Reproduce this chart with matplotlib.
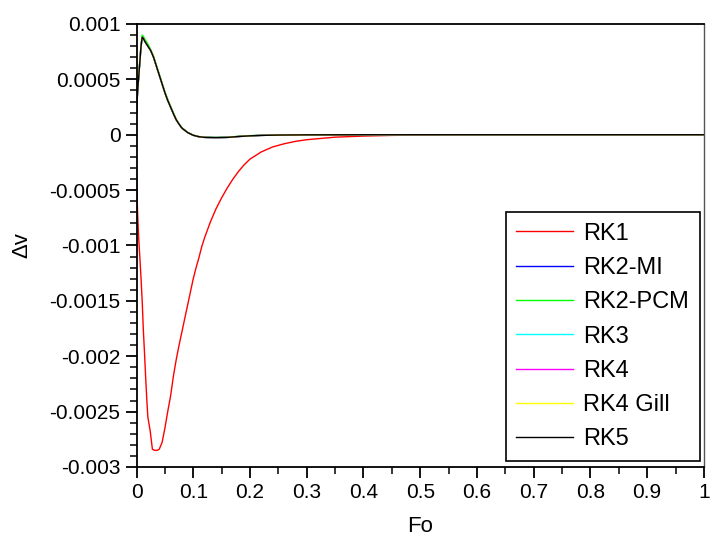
import numpy as np
import matplotlib
matplotlib.use('Agg')
import matplotlib.pyplot as plt
from matplotlib.ticker import MultipleLocator

plt.rcParams['font.family'] = ['Liberation Sans', 'DejaVu Sans']

# Fourier number samples for RK1
fo_rk1 = [0, 0.001, 0.002, 0.004, 0.006, 0.008, 0.01, 0.012, 0.014, 0.016, 0.018,
          0.02, 0.024, 0.028, 0.032, 0.036, 0.04, 0.045, 0.05, 0.055, 0.06, 0.065,
          0.07, 0.075, 0.08, 0.085, 0.09, 0.095, 0.1, 0.105, 0.11, 0.115, 0.12,
          0.13, 0.14, 0.15, 0.16, 0.17, 0.18, 0.19, 0.2, 0.22, 0.24, 0.26, 0.28,
          0.3, 0.35, 0.4, 0.45, 0.5, 0.6, 1.0]
dv_rk1 = [-0.00037, -0.00055, -0.00072, -0.00095, -0.00112, -0.0013, -0.0015,
          -0.00176, -0.00196, -0.00218, -0.00238, -0.00255, -0.00267, -0.00284,
          -0.00285, -0.00285, -0.00284, -0.00278, -0.00265, -0.0025, -0.00236,
          -0.00218, -0.00203, -0.0019, -0.00178, -0.00166, -0.00154, -0.00142,
          -0.0013, -0.0012, -0.00111, -0.00101, -0.00093, -0.00079, -0.00067,
          -0.00057, -0.00048, -0.0004, -0.00033, -0.00027, -0.00022, -0.000155,
          -0.00011, -0.000082, -0.00006, -0.000045, -0.000022, -0.000012,
          -0.000006, -0.000003, 0, 0]

# Fourier number samples for the higher order schemes
fo = [0, 0.002, 0.005, 0.008, 0.01, 0.012, 0.015, 0.02, 0.025, 0.03, 0.035, 0.04,
      0.045, 0.05, 0.055, 0.06, 0.065, 0.07, 0.075, 0.08, 0.09, 0.1, 0.11, 0.12,
      0.14, 0.16, 0.18, 0.2, 0.22, 0.25, 0.3, 0.4, 0.6, 1.0]
dv_rk2_mi = [0.0002, 0.0004, 0.0006, 0.0008, 0.00088, 0.00087, 0.00084, 0.0008,
             0.00076, 0.0007, 0.00062, 0.00054, 0.00046, 0.00038, 0.00031, 0.00025,
             0.00019, 0.000135, 0.000095, 0.00006, 0.00002, -0.000005, -0.000018,
             -0.000024, -0.000026, -0.000024, -0.000016, -0.00001, -0.000006,
             -0.000003, -0.000001, 0, 0, 0]
dv_rk2_pcm = [0.00021, 0.00041, 0.00062, 0.00082, 0.0009, 0.00089, 0.00086, 0.00082,
              0.00077, 0.00071, 0.00063, 0.00055, 0.00047, 0.00039, 0.00032, 0.00026,
              0.0002, 0.00014, 0.0001, 0.000065, 0.000022, -0.000004, -0.000016,
              -0.000022, -0.000024, -0.000022, -0.000014, -0.000008, -0.000005,
              -0.000002, 0, 0, 0, 0]
dv_rk3 = list(dv_rk2_mi)
dv_rk4 = list(dv_rk2_mi)
dv_rk4_gill = list(dv_rk2_mi)
dv_rk5 = list(dv_rk2_mi)

series = [("RK1", fo_rk1, dv_rk1, "#ff0000"),
          ("RK2-MI", fo, dv_rk2_mi, "#0000ff"),
          ("RK2-PCM", fo, dv_rk2_pcm, "#00ff00"),
          ("RK3", fo, dv_rk3, "#00ffff"),
          ("RK4", fo, dv_rk4, "#ff00ff"),
          ("RK4 Gill", fo, dv_rk4_gill, "#ffff00"),
          ("RK5", fo, dv_rk5, "#000000")]

fig = plt.figure(figsize=(7.11, 5.40), dpi=100)
ax = fig.add_axes([0.192, 0.1352, 0.798, 0.8204])

for name, xs, vals, col in series:
    ax.plot(xs, vals, color=col, lw=1.0, label=name)

ax.set_xlim(0, 1)
ax.set_ylim(-0.003, 0.001)
ax.set_xticks(np.arange(0, 1.01, 0.1))
ax.set_xticklabels(['0', '0.1', '0.2', '0.3', '0.4', '0.5', '0.6', '0.7', '0.8', '0.9', '1'])
ax.set_yticks(np.arange(-0.003, 0.0011, 0.0005))
ax.set_yticklabels(['-0.003', '-0.0025', '-0.002', '-0.0015', '-0.001', '-0.0005',
                    '0', '0.0005', '0.001'])
ax.xaxis.set_minor_locator(MultipleLocator(0.05))
ax.yaxis.set_minor_locator(MultipleLocator(0.0001))
ax.tick_params(which='major', direction='out', length=8, width=1.3, labelsize=15,
               top=False, right=False)
ax.tick_params(which='minor', direction='out', length=5, width=1.1, top=False, right=False)
for s in ['left', 'bottom', 'top']:
    ax.spines[s].set_linewidth(1.3)
ax.spines['right'].set_linewidth(1.0)
ax.spines['right'].set_color('#555555')

ax.set_xlabel('Fo', fontsize=16, labelpad=10)
ax.set_ylabel('Δv', fontsize=16, labelpad=12)

leg = ax.legend(loc='lower right', bbox_to_anchor=(0.993, 0.0135), borderaxespad=0,
                fontsize=17, handlelength=2.4, handletextpad=0.45, labelspacing=0.52,
                borderpad=0.45, fancybox=False, framealpha=1)
leg.get_frame().set_edgecolor('black')
leg.get_frame().set_linewidth(1.2)

fig.savefig('out.png', dpi=100)
